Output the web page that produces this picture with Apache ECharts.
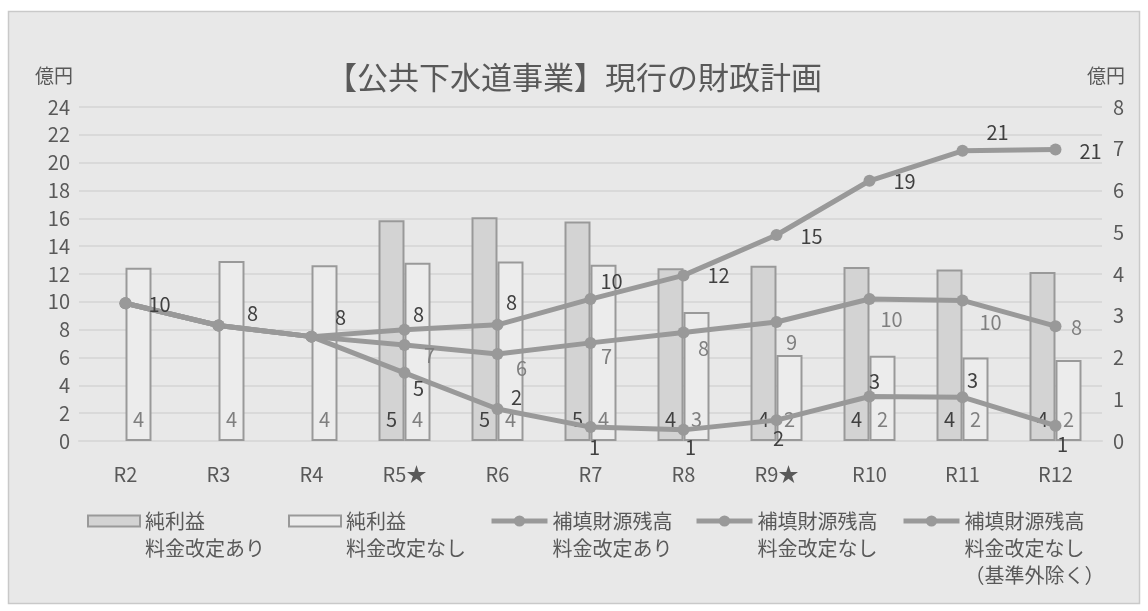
<!DOCTYPE html>
<html>
<head>
<meta charset="utf-8">
<script src="https://cdn.jsdelivr.net/npm/echarts@6.0.0/dist/echarts.min.js"></script>
<style>
html,body{margin:0;padding:0;background:#ffffff;}
#chart{width:1148px;height:611px;}
</style>
</head>
<body>
<div id="chart"></div>
<script>
// ---- data ----
const categories = ['R2','R3','R4','R5★','R6','R7','R8','R9★','R10','R11','R12'];
const profitWithRevision    = [null,null,null,5.29,5.36,5.26,4.14,4.20,4.17,4.11,4.05];
const profitWithoutRevision = [4.15,4.31,4.21,4.27,4.30,4.22,3.09,2.06,2.04,2.00,1.94];
const reserveWithRevision    = [9.9,8.3,7.5,8.0,8.35,10.2,11.9,14.8,18.7,20.85,20.95];
const reserveWithoutRevision = [9.9,8.3,7.5,6.9,6.25,7.05,7.8,8.55,10.2,10.1,8.25];
const reserveExcluded        = [9.9,8.3,7.5,4.9,2.3,1.0,0.8,1.5,3.2,3.15,1.1];
const seriesNames = [
  '純利益\n料金改定あり',
  '純利益\n料金改定なし',
  '補填財源残高\n料金改定あり',
  '補填財源残高\n料金改定なし',
  '補填財源残高\n料金改定なし\n（基準外除く）'
];

// ---- label placement (style) ----
const offA = [[34,1],[34,-12],[29,-19],[14,-15],[14,-22],[21,-18],[35,0],[35,1],[35,1],[35,-18],[35,2]];
const offB = [null,null,null,[25,10],[24,14],[16,14],[20,16],[15,20],[22,20],[28,22],[21,1]];
const offC = [null,null,null,[14,16],[19,-12],[4,20],[7,18],[2,18],[5,-15],[10,-17],[7,19]];

const FONT = '"Noto Sans CJK JP", "Noto Sans", sans-serif';
const LINE = '#999999';
const LH = 27;
const ICON_CENTER = 521;

function lineData(values, offs, color) {
  return values.map((v, i) => ({
    value: v,
    label: offs[i] ? {show: true, position: 'inside', offset: offs[i], color: color,
      fontSize: 20, fontFamily: FONT, formatter: p => Math.round(p.value)} : {show: false}
  }));
}

function legendFor(idx, left, iconW, iconH) {
  const name = seriesNames[idx];
  const n = name.split('\n').length;
  const outer = (2 * n - 1) * LH;
  return {
    data: [{name: name}],
    left: left,
    top: ICON_CENTER - outer / 2,
    padding: 0,
    itemWidth: iconW,
    itemHeight: iconH,
    selectedMode: false,
    formatter: nm => '\n'.repeat(n - 1) + nm,
    lineStyle: {width: 5},
    textStyle: {color: '#595959', fontSize: 20, fontFamily: FONT, lineHeight: LH}
  };
}

const chart = echarts.init(document.getElementById('chart'));
chart.setOption({
  backgroundColor: '#ffffff',
  animation: false,
  textStyle: {fontFamily: FONT},
  graphic: [{
    type: 'rect', z: -10, silent: true,
    shape: {x: 8.5, y: 11.5, width: 1131, height: 592},
    style: {fill: '#e8e8e8', stroke: '#c9c9c9', lineWidth: 1.5}
  }],
  title: {
    text: '【公共下水道事業】現行の財政計画',
    left: 'center', top: 57,
    textStyle: {color: '#595959', fontSize: 31, fontWeight: 'normal', fontFamily: FONT}
  },
  legend: [
    Object.assign(legendFor(0, 87, 52, 11), {icon: 'rect'}),
    Object.assign(legendFor(1, 288, 52, 11), {icon: 'rect'}),
    legendFor(2, 489, 56, 14),
    legendFor(3, 694, 56, 14),
    legendFor(4, 901, 56, 14)
  ],
  grid: {left: 79, right: 46, top: 107, bottom: 170},
  xAxis: {
    type: 'category', data: categories,
    axisLine: {show: true, lineStyle: {color: '#d9d9d9', width: 2}},
    axisTick: {show: false},
    axisLabel: {color: '#595959', fontSize: 20, fontFamily: FONT, margin: 23}
  },
  yAxis: [{
    type: 'value', min: 0, max: 24, interval: 2,
    name: '億円', nameLocation: 'end', nameGap: 22,
    nameTextStyle: {color: '#595959', fontSize: 19, fontFamily: FONT, align: 'right', padding: [0, 6, 0, 0]},
    axisLine: {show: false}, axisTick: {show: false},
    axisLabel: {color: '#595959', fontSize: 20, fontFamily: FONT, margin: 9},
    splitLine: {show: true, lineStyle: {color: '#d9d9d9', width: 2}}
  }, {
    type: 'value', min: 0, max: 8, interval: 1,
    name: '億円', nameLocation: 'end', nameGap: 22,
    nameTextStyle: {color: '#595959', fontSize: 19, fontFamily: FONT, align: 'center', padding: [0, 0, 0, 8]},
    axisLine: {show: false}, axisTick: {show: false},
    axisLabel: {color: '#595959', fontSize: 20, fontFamily: FONT, margin: 11},
    splitLine: {show: false}
  }],
  series: [{
    name: seriesNames[0], type: 'bar', yAxisIndex: 1,
    data: profitWithRevision, barWidth: 26, barGap: '0%',
    itemStyle: {color: '#d3d3d3', borderColor: '#999999', borderWidth: 2},
    label: {show: true, position: 'insideBottom', distance: 12, color: '#404040', fontSize: 20, fontFamily: FONT,
      formatter: p => Math.round(p.value)},
    z: 2
  }, {
    name: seriesNames[1], type: 'bar', yAxisIndex: 1,
    data: profitWithoutRevision, barWidth: 26, barGap: '0%',
    itemStyle: {color: '#ececec', borderColor: '#999999', borderWidth: 2},
    label: {show: true, position: 'insideBottom', distance: 12, color: '#7f7f7f', fontSize: 20, fontFamily: FONT,
      formatter: p => Math.round(p.value)},
    z: 2
  }, {
    name: seriesNames[4], type: 'line', yAxisIndex: 0,
    data: lineData(reserveExcluded, offC, '#404040'),
    symbol: 'circle', symbolSize: 12,
    itemStyle: {color: LINE}, lineStyle: {color: LINE, width: 5}, z: 5
  }, {
    name: seriesNames[3], type: 'line', yAxisIndex: 0,
    data: lineData(reserveWithoutRevision, offB, '#7f7f7f'),
    symbol: 'circle', symbolSize: 12,
    itemStyle: {color: LINE}, lineStyle: {color: LINE, width: 5}, z: 5
  }, {
    name: seriesNames[2], type: 'line', yAxisIndex: 0,
    data: lineData(reserveWithRevision, offA, '#404040'),
    symbol: 'circle', symbolSize: 12,
    itemStyle: {color: LINE}, lineStyle: {color: LINE, width: 5}, z: 5
  }]
});
</script>
</body>
</html>
